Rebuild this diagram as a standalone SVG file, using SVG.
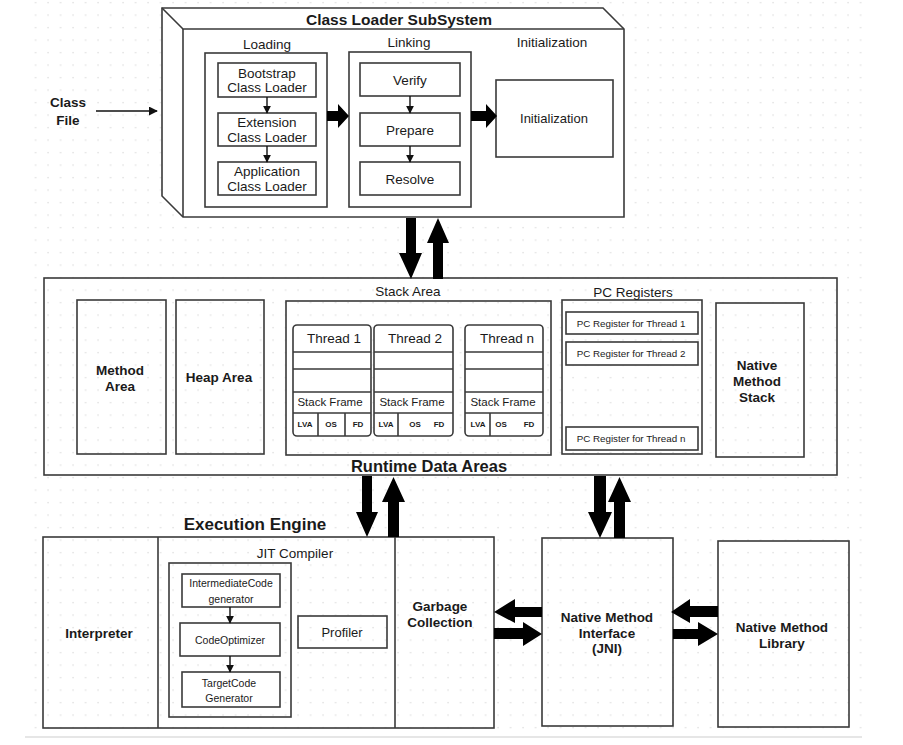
<svg xmlns="http://www.w3.org/2000/svg" width="903" height="745" viewBox="0 0 903 745">
<defs>
<pattern id="grid" patternUnits="userSpaceOnUse" x="0" y="0" width="12.5" height="12.5">
<rect x="10" y="2" width="1.2" height="1.2" fill="#d4d4d4"/>
</pattern>
<marker id="sm" viewBox="0 0 10 10" refX="9" refY="5" markerWidth="8" markerHeight="8" markerUnits="userSpaceOnUse" orient="auto">
<path d="M0,0 L10,5 L0,10 z" fill="#111"/>
</marker>
<marker id="cf" viewBox="0 0 10 10" refX="9" refY="5" markerWidth="9" markerHeight="9" markerUnits="userSpaceOnUse" orient="auto">
<path d="M0,0 L10,5 L0,10 z" fill="#111"/>
</marker>
</defs>
<style>
.b{fill:none;stroke:#3a3a3a;stroke-width:1.6}
.w{fill:#fff;stroke:#3a3a3a;stroke-width:1.6}
.t{font-family:"Liberation Sans",Arial,sans-serif;fill:#1a1a1a;text-anchor:middle;dominant-baseline:central}
.bd{font-weight:bold}
.s13{font-size:13.5px}
.s12{font-size:13px}
.s10{font-size:10.5px}
.s8{font-size:8px;font-weight:bold}
.pc{font-size:9.8px}
.thin{stroke:#111;stroke-width:1.4;fill:none}
.big{fill:#000}
</style>
<rect width="903" height="745" fill="#fff"/>
<rect x="30" y="0" width="835" height="731" fill="url(#grid)"/>
<line x1="25" y1="737" x2="862" y2="737" stroke="#e6e6e6" stroke-width="2"/>

<g id="class-file">
<text class="t bd s13" x="68" y="102">Class</text>
<text class="t bd s13" x="68" y="120">File</text>
</g>

<g id="class-loader-subsystem">
<polygon class="w" points="162,8 603,8 624,29 624,217 183,217 162,196"/>
<polyline class="b" points="162,8 183,29 624,29"/>
<line class="b" x1="183" y1="29" x2="183" y2="217"/>
<text class="t bd" font-size="15.5px" x="399" y="19">Class Loader SubSystem</text>
</g>

<g id="loading">
<rect class="w" x="205" y="53" width="122" height="154"/>
<text class="t s13" x="267" y="44">Loading</text>
</g>
<g id="bootstrap">
<rect class="w" x="218" y="63" width="98" height="34"/>
<text class="t s13" x="267" y="73">Bootstrap</text>
<text class="t s13" x="267" y="87">Class Loader</text>
</g>
<g id="extension">
<rect class="w" x="218" y="113" width="98" height="33"/>
<text class="t s13" x="267" y="122">Extension</text>
<text class="t s13" x="267" y="137">Class Loader</text>
</g>
<g id="application">
<rect class="w" x="218" y="162" width="98" height="33"/>
<text class="t s13" x="267" y="171">Application</text>
<text class="t s13" x="267" y="186">Class Loader</text>
</g>

<g id="linking">
<rect class="w" x="349" y="52" width="122" height="155"/>
<text class="t s13" x="409" y="42">Linking</text>
</g>
<g id="verify">
<rect class="w" x="360" y="63" width="100" height="33"/>
<text class="t s13" x="410" y="80">Verify</text>
</g>
<g id="prepare">
<rect class="w" x="360" y="113" width="100" height="33"/>
<text class="t s13" x="410" y="130">Prepare</text>
</g>
<g id="resolve">
<rect class="w" x="360" y="162" width="100" height="33"/>
<text class="t s13" x="410" y="179">Resolve</text>
</g>

<g id="initialization">
<text class="t s13" x="552" y="42">Initialization</text>
<rect class="w" x="496" y="80" width="117" height="77"/>
<text class="t s12" x="554" y="118">Initialization</text>
</g>

<g id="runtime-data-areas">
<rect class="b" x="44" y="278" width="793" height="197"/>
<text class="t bd" font-size="16.5px" x="429" y="466">Runtime Data Areas</text>
</g>
<g id="method-area">
<rect class="b" x="77" y="300" width="89" height="154"/>
<text class="t bd s13" x="120" y="370">Method</text>
<text class="t bd s13" x="120" y="386">Area</text>
</g>
<g id="heap-area">
<rect class="b" x="176" y="300" width="88" height="154"/>
<text class="t bd s13" x="219" y="377">Heap Area</text>
</g>
<g id="stack-area">
<rect class="b" x="286" y="301" width="265" height="154"/>
<text class="t s13" x="408" y="291">Stack Area</text>
</g>
<g id="thread-1">
<rect class="w" x="293" y="325" width="78" height="111" rx="4"/>
<path class="b" d="M293,352H371M293,369H371M293,392H371M293,413H371M318,413V436M345,413V436"/>
<text class="t s13" x="334" y="338">Thread 1</text>
<text class="t" font-size="11.5px" x="330" y="402">Stack Frame</text>
<text class="t s8" x="305" y="424">LVA</text>
<text class="t s8" x="331" y="424">OS</text>
<text class="t s8" x="358" y="424">FD</text>
</g>
<g id="thread-2">
<rect class="w" x="374" y="325" width="79" height="111" rx="4"/>
<path class="b" d="M374,352H453M374,369H453M374,392H453M374,413H453M398,413V436"/>
<text class="t s13" x="415" y="338">Thread 2</text>
<text class="t" font-size="11.5px" x="412" y="402">Stack Frame</text>
<text class="t s8" x="386" y="424">LVA</text>
<text class="t s8" x="415" y="424">OS</text>
<text class="t s8" x="439" y="424">FD</text>
</g>
<g id="thread-n">
<rect class="w" x="465" y="325" width="78" height="111" rx="4"/>
<path class="b" d="M465,352H543M465,369H543M465,392H543M465,413H543M490,413V436"/>
<text class="t s13" x="507" y="338">Thread n</text>
<text class="t" font-size="11.5px" x="503" y="402">Stack Frame</text>
<text class="t s8" x="478" y="424">LVA</text>
<text class="t s8" x="501" y="424">OS</text>
<text class="t s8" x="529" y="424">FD</text>
</g>
<g id="pc-registers">
<rect class="b" x="562" y="300" width="140" height="154"/>
<text class="t s13" x="633" y="292">PC Registers</text>
</g>
<g id="pc-thread-1">
<rect class="w" x="566" y="312" width="132" height="22"/>
<text class="t pc" x="631" y="323">PC Register for Thread 1</text>
</g>
<g id="pc-thread-2">
<rect class="w" x="566" y="342" width="132" height="23"/>
<text class="t pc" x="631" y="353">PC Register for Thread 2</text>
</g>
<g id="pc-thread-n">
<rect class="w" x="566" y="427" width="132" height="23"/>
<text class="t pc" x="631" y="438">PC Register for Thread n</text>
</g>
<g id="native-method-stack">
<rect class="b" x="716" y="303" width="88" height="154"/>
<text class="t bd s13" x="757" y="365">Native</text>
<text class="t bd s13" x="757" y="381">Method</text>
<text class="t bd s13" x="757" y="397">Stack</text>
</g>

<g id="execution-engine">
<rect class="b" x="43" y="537" width="451" height="191"/>
<line class="b" x1="158" y1="537" x2="158" y2="728"/>
<line class="b" x1="395" y1="537" x2="395" y2="728"/>
<text class="t bd" font-size="17px" x="255" y="524">Execution Engine</text>
</g>
<g id="interpreter">
<text class="t bd s13" x="99" y="633">Interpreter</text>
</g>
<g id="jit-compiler">
<text class="t s13" x="295" y="553">JIT Compiler</text>
<rect class="b" x="169" y="563" width="122" height="154"/>
</g>
<g id="intermediate-code">
<rect class="w" x="182" y="574" width="98" height="33"/>
<text class="t s10" x="231" y="583">IntermediateCode</text>
<text class="t s10" x="231" y="599">generator</text>
</g>
<g id="code-optimizer">
<rect class="w" x="180" y="623" width="100" height="33"/>
<text class="t s10" x="230" y="640">CodeOptimizer</text>
</g>
<g id="target-code">
<rect class="w" x="182" y="672" width="98" height="35"/>
<text class="t s10" x="229" y="683">TargetCode</text>
<text class="t s10" x="229" y="698">Generator</text>
</g>
<g id="profiler">
<rect class="b" x="298" y="616" width="89" height="32"/>
<text class="t s12" x="342" y="632">Profiler</text>
</g>
<g id="garbage-collection">
<text class="t bd s13" x="440" y="606">Garbage</text>
<text class="t bd s13" x="440" y="622">Collection</text>
</g>
<g id="native-method-interface">
<rect class="b" x="542" y="538" width="131" height="188"/>
<text class="t bd s13" x="607" y="617">Native Method</text>
<text class="t bd s13" x="607" y="633">Interface</text>
<text class="t bd s13" x="607" y="648">(JNI)</text>
</g>
<g id="native-method-library">
<rect class="b" x="718" y="541" width="131" height="186"/>
<text class="t bd s13" x="782" y="627">Native Method</text>
<text class="t bd s13" x="782" y="643">Library</text>
</g>

<g id="connectors">
<line class="thin" x1="96" y1="111" x2="157" y2="111" marker-end="url(#cf)"/>
<line class="thin" x1="267" y1="97" x2="267" y2="113" marker-end="url(#sm)"/>
<line class="thin" x1="267" y1="146" x2="267" y2="162" marker-end="url(#sm)"/>
<line class="thin" x1="410" y1="96" x2="410" y2="113" marker-end="url(#sm)"/>
<line class="thin" x1="410" y1="146" x2="410" y2="162" marker-end="url(#sm)"/>
<line class="thin" x1="230" y1="607" x2="230" y2="623" marker-end="url(#sm)"/>
<line class="thin" x1="230" y1="656" x2="230" y2="672" marker-end="url(#sm)"/>
<polygon class="big" points="327,111 338,111 338,104 349,116 338,128 338,121 327,121"/>
<polygon class="big" points="471,111 486,111 486,104 497,116 486,128 486,121 471,121"/>
<polygon class="big" points="406,218 416,218 416,253 422,253 411,279 399,253 406,253"/>
<polygon class="big" points="433,279 443,279 443,243 449,243 438,218 427,243 433,243"/>
<polygon class="big" points="362,476 372,476 372,512 378,512 367,537 356,512 362,512"/>
<polygon class="big" points="388,537 399,537 399,502 405,502 393.5,477 382,502 388,502"/>
<polygon class="big" points="594,476 606,476 606,512 612,512 600,538 588,512 594,512"/>
<polygon class="big" points="614,538 625,538 625,502 631,502 619.5,477 608,502 614,502"/>
<polygon class="big" points="542,607 515,607 515,599 494,612 515,623 515,617 542,617"/>
<polygon class="big" points="494,628 523,628 523,622 542,634 523,646 523,639 494,639"/>
<polygon class="big" points="718,606 690,606 690,599 671,612 690,623 690,617 718,617"/>
<polygon class="big" points="673,629 698,629 698,622 718,634 698,646 698,639 673,639"/>
</g>
</svg>
